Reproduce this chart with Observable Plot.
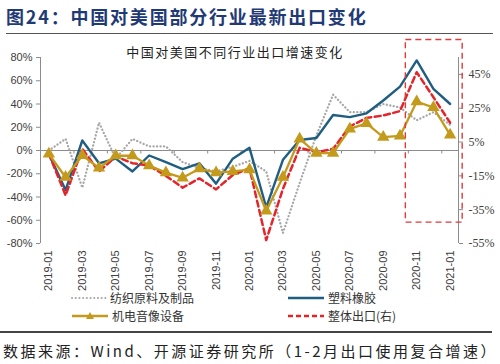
<!DOCTYPE html>
<html><head><meta charset="utf-8">
<script src="https://cdn.jsdelivr.net/npm/d3@7"></script>
<script src="https://cdn.jsdelivr.net/npm/@observablehq/plot@0.6"></script>
<style>
body{margin:0;background:#fff;}
#wrap{position:relative;width:500px;height:364px;overflow:hidden;font-family:"Noto Sans CJK SC",sans-serif;}
#title{position:absolute;left:6px;top:3px;font-size:18px;font-weight:700;color:#1f3a75;letter-spacing:1.8px;white-space:nowrap;line-height:26px}
#tline{position:absolute;left:6px;top:33px;width:487px;height:1px;background:#555}
#chart{position:absolute;left:0;top:36px}
#sub{position:absolute;left:0;width:470px;text-align:center;top:43px;font-size:13px;letter-spacing:1.5px;color:#222;line-height:18px}
.leg{position:absolute;font-size:12px;color:#333;display:flex;align-items:center;white-space:nowrap;line-height:16px}
.leg svg{margin-right:3px}
#fline{position:absolute;left:0;top:331px;width:492px;height:2px;background:#444}
#foot{position:absolute;left:3px;top:341px;font-size:15px;letter-spacing:2.5px;color:#222;white-space:nowrap;line-height:20px}
</style></head>
<body><div id="wrap">
<div id="title">图24：中国对美国部分行业最新出口变化</div>
<div id="tline"></div>
<div id="chart"></div>
<div id="sub">中国对美国不同行业出口增速变化</div>
<div id="legend"></div>
<div id="fline"></div>
<div id="foot">数据来源：Wind、开源证券研究所（1-2月出口使用复合增速）</div>
</div>
<script>
const months = ["2019-01","2019-02","2019-03","2019-04","2019-05","2019-06","2019-07","2019-08","2019-09","2019-10","2019-11","2019-12",
"2020-01","2020-02","2020-03","2020-04","2020-05","2020-06","2020-07","2020-08","2020-09","2020-10","2020-11","2020-12","2021-01"];
// 纺织原料及制品 (left axis, %)
const textile = [0,10,-32,24,-7,10,3.5,3.5,-10,-15,-18,-14,-9,-18,-71,-28,13,48,33,33,40,37,26,33,22];
// 塑料橡胶 (left axis, %)
const plastic = [-3,-34,8.6,-11,-7,-18,-4.3,-10,-16,-11,-28.5,-7,2.3,-49,-8,9,10.8,30.5,28.7,32,43,55,77.5,53,40];
// 机电音像设备 (left axis, %)
const electro = [-3,-23,-4.3,-15,-4.5,-4.5,-13,-19,-23.5,-15.7,-19,-18,-16.5,-52,-23,10,-2.3,-2.3,18.6,23.3,11.5,12.5,42,37,13.5];
// 整体出口 (right axis, %)
const total = [-2,-26.5,1,-12.5,-3.5,-7.5,-9,-15,-22,-16.5,-23,-14.5,-10.5,-53,-22.7,1.6,-1,1,14.2,19.3,20.7,23.3,46.3,31.5,16.4];

const leftTicks = [-80,-60,-40,-20,0,20,40,60,80];
const rightTicks = [-55,-35,-15,5,25,45];
const leftDomain = [-80,80];
const rightDomain = [-55,55];
const xTickMonths = months.filter((m,i)=>i%2===0);
// highlighted window (annotation box)
const highlight = {from:"2020-11", to:"2021-01", top:95, bottom:-62};

const C = {textile:"#a6a6a6", plastic:"#1f5e80", electro:"#c49a1c", total:"#e3242b"};
const K = (leftDomain[1]-leftDomain[0])/(rightDomain[1]-rightDomain[0]);
const rows = vals => vals.map((v,i)=>({i, v}));
const midTicks = months.map((m,i)=>i+1.5).filter((v,i)=>i%2===0 && v<months.length-0.5);
const hi = {x1: months.indexOf(highlight.from)-0.65, x2: months.indexOf(highlight.to)+0.75, y1: highlight.bottom, y2: highlight.top};

const chart = Plot.plot({
  width:500, height:258,
  marginTop:21, marginBottom:51, marginLeft:40, marginRight:42,
  x:{type:"linear", domain:[-0.5, months.length-0.5], label:null},
  y:{domain:leftDomain, label:null},
  style:{fontFamily:"Liberation Sans, Arial, sans-serif", fontSize:"11px", background:"transparent", overflow:"visible", color:"#404040"},
  marks:[
    Plot.ruleY([0], {stroke:"#8c8c8c", strokeWidth:1}),
    Plot.ruleX(midTicks, {y1:0, y2:-3, stroke:"#8c8c8c"}),
    Plot.ruleX([-0.5], {y1:leftDomain[0], y2:leftDomain[1], stroke:"#8c8c8c"}),
    Plot.ruleX([months.length-0.5], {y1:leftDomain[0], y2:leftDomain[1], stroke:"#8c8c8c"}),
    Plot.axisY({anchor:"left", ticks:leftTicks, tickFormat:d=>d+"%", tickSize:4, tickPadding:4, stroke:"#8c8c8c", fill:"#404040", label:null}),
    Plot.axisY({anchor:"right", ticks:rightTicks.map(v=>v*K), tickFormat:d=>Math.round(d/K)+"%", tickSize:4, tickPadding:6, stroke:"#8c8c8c", fill:"#404040", fontFamily:"Liberation Serif, serif", fontSize:12, label:null}),
    Plot.axisX({anchor:"bottom", ticks:xTickMonths.map(m=>months.indexOf(m)), tickFormat:i=>months[i], tickRotate:-90, tickSize:0, tickPadding:7, fill:"#404040", label:null}),
    Plot.line(rows(textile), {x:"i", y:"v", stroke:C.textile, strokeWidth:2.3, strokeDasharray:"0.1 3.4", strokeLinecap:"round"}),
    Plot.line(rows(plastic), {x:"i", y:"v", stroke:C.plastic, strokeWidth:2.4}),
    Plot.line(rows(total), {x:"i", y:d=>d.v*K, stroke:C.total, strokeWidth:2.5, strokeDasharray:"6 3.5"}),
    Plot.line(rows(electro), {x:"i", y:"v", stroke:C.electro, strokeWidth:2.3}),
    Plot.dot(rows(electro), {x:"i", y:"v", symbol:"triangle", fill:C.electro, stroke:"none", r:4.6}),
    Plot.rect([hi], {x1:"x1", x2:"x2", y1:"y1", y2:"y2", fill:"none", stroke:"#e03a3a", strokeWidth:1.4, strokeDasharray:"6 4"})
  ]
});
document.getElementById("chart").appendChild(chart);

const legendItems = [
  {label:"纺织原料及制品", color:C.textile, kind:"dot", left:70, top:290},
  {label:"塑料橡胶", color:C.plastic, kind:"solid", left:288, top:290},
  {label:"机电音像设备", color:C.electro, kind:"tri", left:72, top:308},
  {label:"整体出口(右)", color:C.total, kind:"dash", left:288, top:308}
];
const lg = document.getElementById("legend");
for (const it of legendItems) {
  const d = document.createElement("div");
  d.className = "leg";
  d.style.left = it.left+"px"; d.style.top = it.top+"px";
  let s = "";
  if (it.kind==="dot") s = `<line x1="2" y1="8" x2="36" y2="8" stroke="${it.color}" stroke-width="2" stroke-dasharray="0.1 3.6" stroke-linecap="round"/>`;
  if (it.kind==="solid") s = `<line x1="0" y1="8" x2="36" y2="8" stroke="${it.color}" stroke-width="2.3"/>`;
  if (it.kind==="dash") s = `<line x1="0" y1="8" x2="36" y2="8" stroke="${it.color}" stroke-width="2.5" stroke-dasharray="5 3"/>`;
  if (it.kind==="tri") s = `<line x1="0" y1="8" x2="36" y2="8" stroke="${it.color}" stroke-width="2.3"/><path d="M18,4 L22,11 L14,11 Z" fill="${it.color}"/>`;
  d.innerHTML = `<svg width="37" height="16">${s}</svg><span>${it.label}</span>`;
  lg.appendChild(d);
}
</script>
</body></html>
